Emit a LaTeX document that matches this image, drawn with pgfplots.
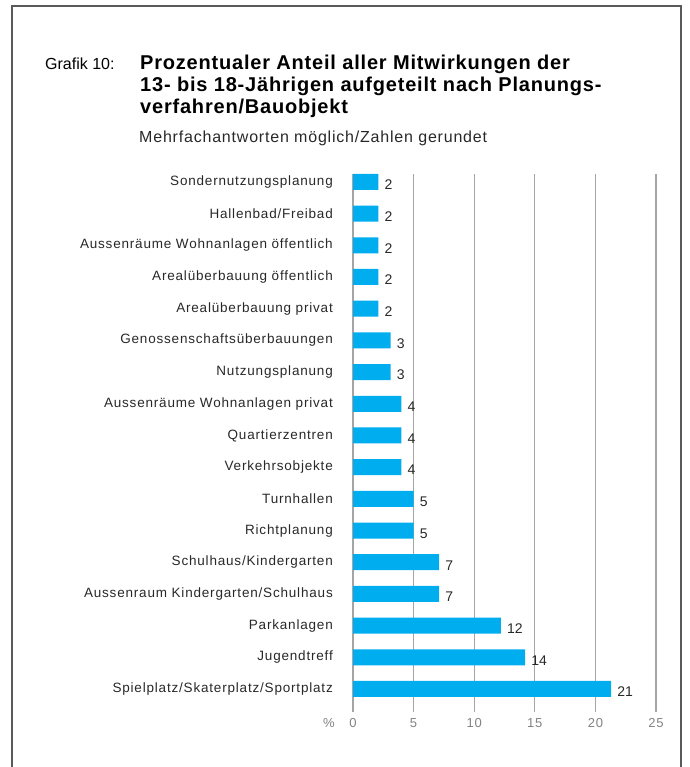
\documentclass[border=0pt]{standalone}
\usepackage{fontspec}
\setmainfont{Liberation Sans}
\newfontfamily\lblfont[LetterSpace=6]{Liberation Sans}
\newfontfamily\subfont[LetterSpace=5]{Liberation Sans}
\newfontfamily\titlefont[LetterSpace=4]{Liberation Sans Bold}
\usepackage{pgfplots}
\pgfplotsset{compat=1.18}
\definecolor{barblue}{RGB}{0,174,239}
\definecolor{gridgray}{RGB}{165,165,165}
\definecolor{framegray}{RGB}{90,90,90}
\definecolor{labelgray}{RGB}{40,40,40}
\definecolor{tickgray}{RGB}{130,130,130}
\pgfplotstableread{
x y lab
21.3 0 21
14.2 1 14
12.2 2 12
7.1 3 7
7.1 4 7
5.0 5 5
5.0 6 5
4.0 7 4
4.0 8 4
4.0 9 4
3.1 10 3
3.1 11 3
2.1 12 2
2.1 13 2
2.1 14 2
2.1 15 2
2.1 16 2
}\datatable
\begin{document}
\begin{tikzpicture}[x=1pt,y=1pt]
\useasboundingbox (0,0) rectangle (689,767);
\draw[color=framegray, line width=1.2pt] (12,0) -- (12,761) -- (681,761) -- (681,0);
\node[anchor=base west, inner sep=0pt, font=\fontsize{16}{19}\selectfont] at (45,697) {Grafik 10:};
\node[anchor=base west, inner sep=0pt, font=\titlefont\fontsize{20}{24}\selectfont] at (140,697) {Prozentualer Anteil aller Mitwirkungen der};
\node[anchor=base west, inner sep=0pt, font=\titlefont\fontsize{20}{24}\selectfont] at (140,675) {13- bis 18-Jährigen aufgeteilt nach Planungs-};
\node[anchor=base west, inner sep=0pt, font=\titlefont\fontsize{20}{24}\selectfont] at (140,653) {verfahren/Bauobjekt};
\node[anchor=base west, inner sep=0pt, font=\subfont\fontsize{16}{19}\selectfont, text=labelgray] at (139,624) {Mehrfachantworten möglich/Zahlen gerundet};
\node[inner sep=0pt, font=\lblfont\fontsize{13}{15}\selectfont, text=tickgray] at (329,44) {\%};
\begin{axis}[
  at={(353pt,55pt)}, anchor=south west,
  scale only axis, width=303pt, height=538pt,
  xmin=0, xmax=25, ymin=-0.726, ymax=16.25,
  xbar, bar width=16pt,
  axis line style={draw=none},
  major tick length=0pt,
  xtick={0,5,...,25},
  xmajorgrids,
  grid style={color=gridgray, line width=1.1pt},
  ytick={0,...,16},
  yticklabels={Spielplatz/Skaterplatz/Sportplatz, Jugendtreff, Parkanlagen, Aussenraum Kindergarten/Schulhaus, Schulhaus/Kindergarten, Richtplanung, Turnhallen, Verkehrsobjekte, Quartierzentren, Aussenräume Wohnanlagen privat, Nutzungsplanung, Genossenschaftsüberbauungen, Arealüberbauung privat, Arealüberbauung öffentlich, Aussenräume Wohnanlagen öffentlich, Hallenbad/Freibad, Sondernutzungsplanung},
  yticklabel style={font=\lblfont\fontsize{13.5}{16}\selectfont, text=labelgray, anchor=east, inner sep=0pt, xshift=-20pt},
  xticklabel style={font=\lblfont\fontsize{13}{15}\selectfont, text=tickgray, anchor=north, inner sep=0pt, yshift=-6pt},
  /pgf/number format/assume math mode=true,
  nodes near coords,
  point meta=explicit symbolic,
  nodes near coords style={font=\fontsize{14}{16}\selectfont, text=labelgray, anchor=west, inner sep=0pt, xshift=6pt, yshift=-3pt},
  clip=false,
]
\addplot[fill=barblue, draw=none] table[x=x, y=y, meta=lab] {\datatable};
\end{axis}
\end{tikzpicture}
\end{document}
